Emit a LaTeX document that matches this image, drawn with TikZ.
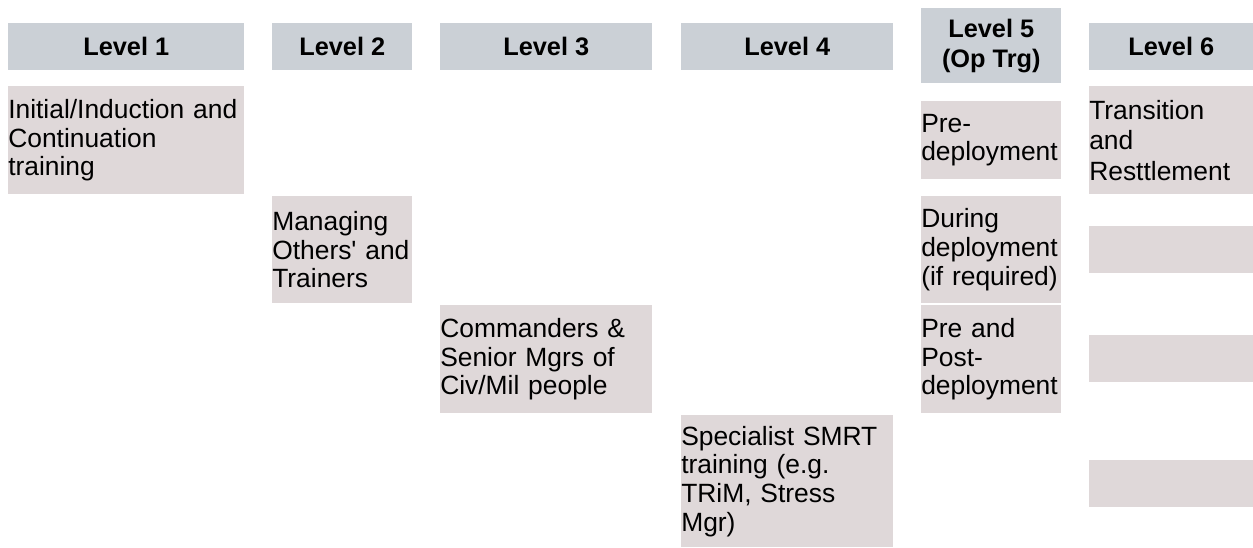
\documentclass[tikz,border=0pt]{standalone}
\usepackage{fontspec}
\setmainfont{Liberation Sans}
\usepackage{tikz}

\definecolor{headgray}{RGB}{203,208,214}
\definecolor{boxrose}{RGB}{223,216,217}

\tikzset{
	levelhead/.style={fill=headgray, inner sep=0pt, anchor=north west, align=center,
		font=\bfseries\fontsize{19pt}{22.5pt}\selectfont},
	trgbox/.style={fill=boxrose, inner sep=0pt, anchor=north west, align=left,
		font=\fontsize{19.8pt}{21.5pt}\selectfont}
}

\begin{document}
\begin{tikzpicture}[x=0.75pt, y=-0.75pt]
		\useasboundingbox (0, 0) rectangle (1253, 547);
		% headers
		\node [levelhead, minimum width=177pt, minimum height=35.25pt] (h1) at (8, 23) {Level 1};
		\node [levelhead, minimum width=105pt, minimum height=35.25pt] (h2) at (272, 23) {Level 2};
		\node [levelhead, minimum width=159pt, minimum height=35.25pt] (h3) at (440, 23) {Level 3};
		\node [levelhead, minimum width=159pt, minimum height=35.25pt] (h4) at (681, 23) {Level 4};
		\node [levelhead, minimum width=105pt, minimum height=56.25pt] (h5) at (921, 8) {Level 5\\(Op Trg)};
		\node [levelhead, minimum width=123pt, minimum height=35.25pt] (h6) at (1089, 23) {Level 6};
		% level 1 to 4
		\node [trgbox, text width=177pt, minimum height=81pt] (induct) at (8, 86) {Initial/Induction and\\Continuation\\training};
		\node [trgbox, text width=105pt, minimum height=80.25pt] (manage) at (272, 196) {Managing\\Others\textquotesingle{} and\\Trainers};
		\node [trgbox, text width=159pt, minimum height=81pt] (command) at (440, 305) {Commanders \&\\Senior Mgrs of\\Civ/Mil people};
		\node [trgbox, text width=159pt, minimum height=99pt] (smrt) at (681, 415) {Specialist SMRT\\training (e.g.\\TRiM, Stress\\Mgr)};
		% level 5
		\node [trgbox, text width=105pt, minimum height=58.5pt] (predep) at (921, 101) {Pre-\\deployment};
		\node [trgbox, text width=105pt, minimum height=80.25pt] (duringdep) at (921, 196) {During\\deployment\\(if required)};
		\node [trgbox, text width=105pt, minimum height=81pt] (postdep) at (921, 305) {Pre and\\Post-\\deployment};
		% level 6
		\node [trgbox, font=\fontsize{19.8pt}{22.9pt}\selectfont, text width=123pt, minimum height=81pt] (resettle) at (1089, 86) {Transition\\and\\Resttlement};
		\node [trgbox, text width=123pt, minimum height=35.25pt] (blank1) at (1089, 226) {};
		\node [trgbox, text width=123pt, minimum height=35.25pt] (blank2) at (1089, 335) {};
		\node [trgbox, text width=123pt, minimum height=35.25pt] (blank3) at (1089, 460) {};
	\end{tikzpicture}
\end{document}
